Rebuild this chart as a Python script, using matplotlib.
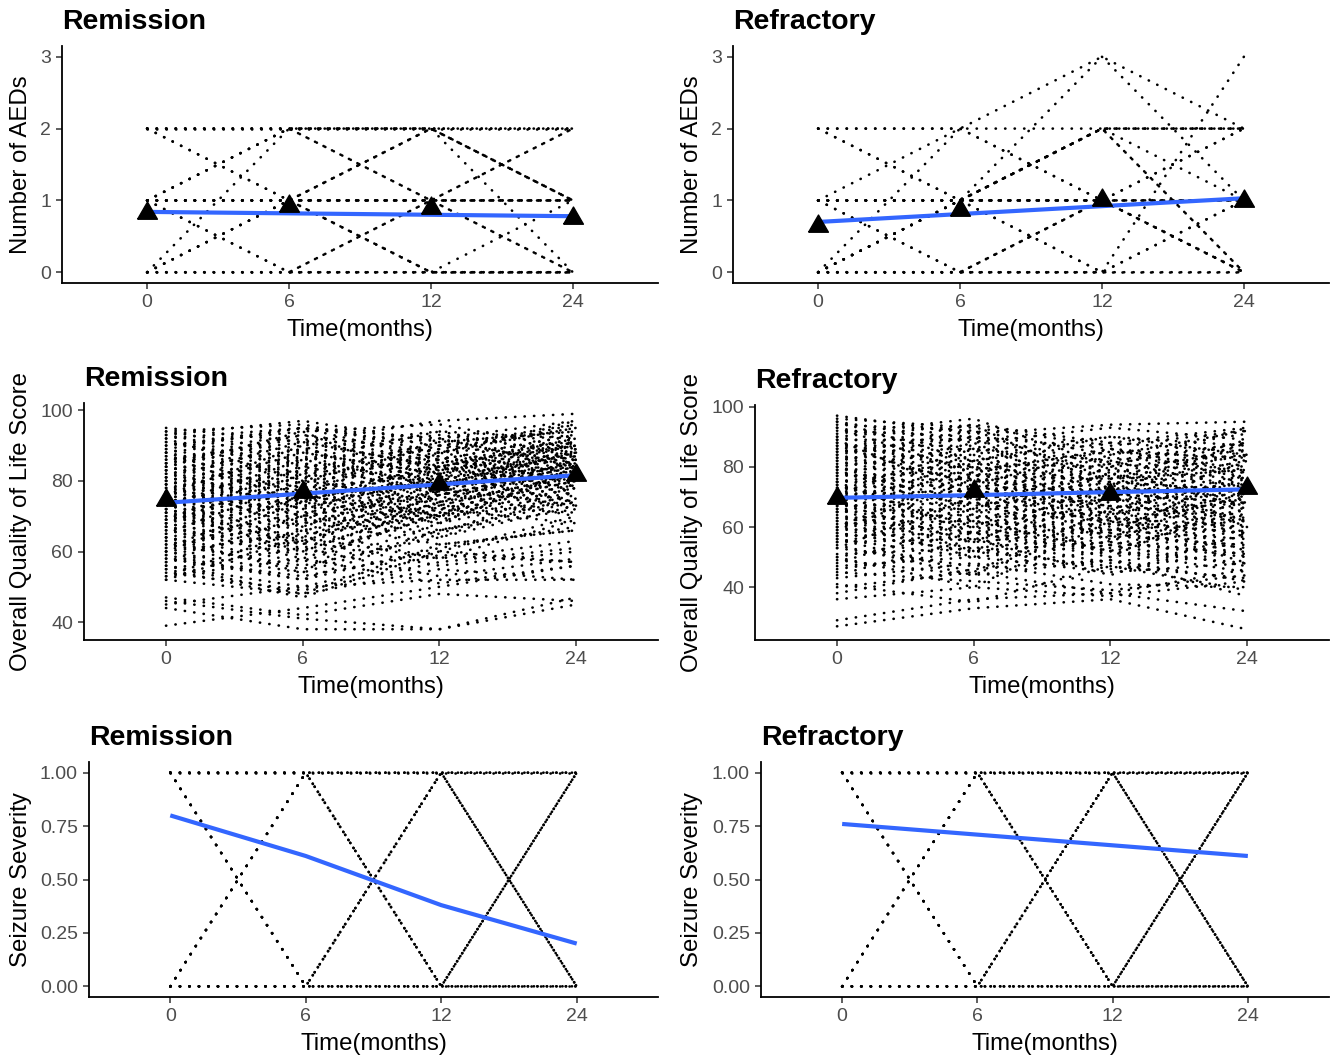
import matplotlib
matplotlib.use("Agg")
import matplotlib.pyplot as plt
from matplotlib.transforms import blended_transform_factory

plt.rcParams['font.family'] = ['Liberation Sans', 'DejaVu Sans']

# ---- data ----
TIME_LABELS = ["0", "6", "12", "24"]

# number of AEDs per patient at 0/6/12/24 months
AED_REM = [
    [2, 2, 2, 2], [2, 1, 1, 1], [2, 1, 0, 0], [1, 0, 0, 0], [1, 1, 1, 1],
    [1, 2, 2, 2], [0, 2, 2, 2], [0, 1, 2, 1], [0, 0, 0, 0], [0, 1, 1, 1],
    [1, 1, 2, 2], [1, 1, 2, 1], [1, 2, 1, 1], [1, 1, 0, 0], [2, 2, 1, 0],
    [1, 1, 1, 0], [0, 0, 1, 2], [1, 1, 1, 2], [0, 1, 0, 0], [2, 2, 2, 1],
    [1, 2, 2, 1], [0, 0, 0, 1], [1, 0, 1, 1], [2, 2, 2, 0],
]
AED_REF = [
    [2, 2, 1, 1], [2, 1, 1, 0], [1, 0, 0, 1], [1, 2, 3, 2], [0, 1, 2, 2],
    [0, 1, 2, 0], [0, 0, 1, 2], [0, 0, 0, 3], [1, 1, 1, 1], [1, 1, 2, 1],
    [0, 0, 0, 0], [1, 1, 0, 0], [0, 1, 1, 2], [1, 1, 1, 0], [2, 1, 2, 2],
    [1, 0, 1, 1], [0, 1, 3, 1], [1, 1, 0, 1], [0, 0, 1, 0], [1, 1, 2, 2],
    [2, 2, 1, 0], [0, 2, 2, 2], [1, 1, 2, 0], [0, 1, 1, 1],
]
AED_REM_MEAN = [0.82, 0.92, 0.90, 0.76]
AED_REM_FIT = [0.84, 0.82, 0.80, 0.78]
AED_REF_MEAN = [0.65, 0.87, 1.00, 0.99]
AED_REF_FIT = [0.70, 0.81, 0.92, 1.03]

# overall quality of life score per patient
QOL_REM = [
    [95, 91, 97, 99], [94, 96, 88, 97], [93, 86, 94, 92], [92, 95, 90, 96],
    [91, 84, 89, 95], [90, 94, 96, 89], [89, 82, 91, 94], [88, 93, 85, 92],
    [87, 79, 88, 95], [86, 92, 83, 90], [85, 78, 86, 93], [85, 90, 94, 87],
    [84, 76, 84, 91], [83, 89, 80, 88], [82, 74, 85, 90], [82, 88, 92, 84],
    [81, 73, 80, 89], [80, 87, 78, 86], [80, 72, 83, 88], [79, 86, 89, 81],
    [78, 70, 79, 87], [78, 85, 76, 84], [77, 69, 82, 86], [76, 84, 87, 79],
    [76, 68, 77, 85], [75, 83, 73, 82], [75, 67, 81, 84], [74, 82, 86, 77],
    [73, 66, 75, 83], [73, 81, 72, 80], [72, 64, 78, 85], [72, 80, 84, 76],
    [71, 63, 74, 81], [70, 79, 70, 78], [70, 62, 76, 83], [69, 78, 82, 74],
    [68, 61, 72, 80], [68, 76, 69, 77], [67, 60, 73, 82], [66, 75, 80, 72],
    [66, 59, 70, 78], [65, 73, 66, 75], [64, 57, 71, 79], [63, 71, 77, 70],
    [62, 56, 64, 73], [61, 69, 62, 66], [60, 54, 66, 72], [59, 66, 58, 63],
    [58, 52, 61, 67], [57, 63, 56, 60], [56, 50, 59, 57], [55, 61, 53, 58],
    [54, 49, 57, 61], [53, 58, 51, 56], [52, 48, 55, 52], [47, 42, 48, 46],
    [46, 41, 38, 45], [45, 50, 52, 52], [39, 44, 50, 56], [44, 38, 38, 47],
    [94, 88, 82, 91], [93, 97, 91, 94], [91, 85, 79, 88], [90, 95, 92, 97],
    [88, 81, 87, 80], [86, 91, 84, 92], [84, 77, 70, 86], [83, 89, 93, 88],
    [81, 75, 68, 83], [79, 86, 90, 93], [77, 71, 65, 79], [76, 83, 88, 91],
    [74, 81, 86, 80], [71, 77, 83, 87], [69, 75, 81, 74], [67, 74, 79, 84],
    [64, 70, 76, 82], [62, 68, 73, 71], [60, 65, 70, 74], [58, 53, 60, 57],
    [92, 80, 90, 86], [89, 95, 86, 93], [87, 74, 84, 90], [85, 93, 88, 96],
    [83, 72, 81, 87], [81, 91, 84, 92], [79, 67, 79, 85], [77, 88, 82, 90],
    [75, 63, 76, 84], [73, 86, 79, 88], [71, 60, 74, 80], [69, 84, 77, 89],
    [67, 58, 71, 79], [65, 80, 74, 86], [63, 55, 68, 76], [61, 76, 70, 82],
    [59, 52, 66, 74], [57, 70, 64, 77], [55, 47, 60, 70], [53, 66, 72, 68],
    [88, 76, 92, 84], [84, 94, 78, 91], [80, 70, 88, 82], [76, 90, 74, 86],
    [72, 62, 84, 78], [68, 82, 70, 92], [64, 54, 78, 73], [60, 74, 68, 84],
    [56, 48, 62, 66], [52, 64, 58, 69],
]
QOL_REF = [
    [97, 91, 94, 95], [96, 93, 87, 92], [95, 88, 93, 89], [94, 92, 84, 91],
    [93, 85, 90, 87], [92, 90, 81, 88], [90, 82, 88, 85], [89, 89, 78, 86],
    [88, 79, 85, 83], [87, 87, 76, 84], [86, 77, 83, 80], [85, 86, 74, 82],
    [84, 75, 81, 78], [83, 84, 72, 81], [82, 73, 79, 76], [81, 82, 70, 80],
    [80, 71, 77, 74], [79, 80, 68, 77], [78, 69, 75, 72], [77, 78, 66, 75],
    [76, 67, 73, 70], [75, 76, 64, 73], [74, 65, 71, 68], [73, 74, 62, 71],
    [72, 63, 69, 66], [71, 72, 61, 70], [70, 61, 67, 64], [69, 70, 59, 68],
    [68, 60, 65, 62], [67, 68, 57, 66], [66, 58, 63, 60], [65, 66, 56, 64],
    [64, 56, 61, 58], [63, 64, 54, 63], [62, 55, 59, 56], [61, 62, 53, 61],
    [60, 53, 57, 54], [59, 60, 52, 59], [58, 52, 55, 50], [57, 58, 50, 57],
    [56, 50, 54, 47], [55, 56, 48, 55], [53, 47, 52, 45], [51, 53, 46, 52],
    [49, 44, 49, 42], [47, 50, 45, 48], [45, 42, 39, 44], [43, 48, 41, 40],
    [40, 45, 38, 46], [38, 46, 49, 37], [36, 40, 37, 42], [29, 36, 38, 32],
    [27, 33, 36, 26], [90, 94, 88, 93], [85, 90, 86, 82], [80, 86, 82, 88],
    [75, 81, 80, 84], [70, 77, 76, 79], [65, 73, 72, 74], [60, 68, 69, 71],
    [55, 63, 65, 68], [50, 58, 59, 62], [88, 80, 75, 72], [83, 76, 71, 68],
    [78, 72, 67, 63], [73, 68, 62, 58], [68, 62, 58, 53], [63, 58, 52, 48],
    [58, 52, 47, 43], [46, 52, 55, 51],
    [95, 82, 90, 84], [91, 96, 80, 93], [87, 74, 86, 78], [84, 92, 76, 89],
    [80, 66, 82, 73], [77, 88, 70, 86], [74, 60, 78, 68], [71, 84, 64, 82],
    [68, 55, 74, 62], [65, 80, 58, 78], [62, 50, 70, 57], [59, 76, 55, 74],
    [56, 45, 66, 52], [53, 70, 50, 70], [50, 40, 62, 48], [93, 78, 86, 76],
    [86, 94, 72, 88], [79, 64, 80, 66], [72, 86, 62, 84], [66, 52, 72, 58],
    [60, 78, 56, 80], [54, 44, 64, 50], [48, 62, 52, 66], [44, 56, 44, 58],
    [41, 35, 47, 39], [89, 70, 84, 92], [82, 90, 66, 76], [75, 58, 74, 88],
    [67, 82, 60, 70], [57, 66, 78, 60],
]
QOL_REM_MEAN = [74.6, 76.9, 79.2, 81.7]
QOL_REM_FIT = [73.8, 76.4, 79.0, 81.6]
QOL_REF_MEAN = [69.8, 72.1, 71.1, 72.8]
QOL_REF_FIT = [69.7, 70.6, 71.6, 72.5]

# seizure severity (binary) per patient
SEV_REM = [
    [1, 1, 1, 1], [1, 1, 1, 0], [1, 1, 0, 1], [1, 1, 0, 0],
    [1, 0, 1, 1], [1, 0, 1, 0], [1, 0, 0, 1], [1, 0, 0, 0],
    [0, 1, 1, 1], [0, 1, 1, 0], [0, 1, 0, 1], [0, 1, 0, 0],
    [0, 0, 1, 1], [0, 0, 1, 0], [0, 0, 0, 1], [0, 0, 0, 0],
]
SEV_REF = [
    [1, 1, 1, 1], [1, 1, 1, 0], [1, 1, 0, 1], [1, 1, 0, 0],
    [1, 0, 1, 1], [1, 0, 1, 0], [1, 0, 0, 1], [1, 0, 0, 0],
    [0, 1, 1, 1], [0, 1, 1, 0], [0, 1, 0, 1], [0, 1, 0, 0],
    [0, 0, 1, 1], [0, 0, 1, 0], [0, 0, 0, 1], [0, 0, 0, 0],
]
SEV_REM_FIT = [0.80, 0.61, 0.38, 0.20]
SEV_REF_FIT = [0.76, 0.71, 0.66, 0.61]

# ---- figure ----
W, H = 1338, 1059
fig = plt.figure(figsize=(W / 100, H / 100), dpi=100)

BLUE = "#3366FF"
GREY = "#4D4D4D"
# equilateral triangle like ggplot's shape 17
TRI = [(-1.0, -0.577), (1.0, -0.577), (0.0, 1.155), (-1.0, -0.577)]


def add_px_axes(left, top, right, bottom):
    return fig.add_axes([left / W, 1 - bottom / H, (right - left) / W, (bottom - top) / H])


panels = [
    # (box, title, ylabel, trajectories, fit, means, yticks, yticklabels, ylim, ylabel_x)
    ((62, 46, 658, 283), "Remission", "Number of AEDs", AED_REM, AED_REM_FIT,
     AED_REM_MEAN, [0, 1, 2, 3], ["0", "1", "2", "3"], (-0.15, 3.15), 21),
    ((733, 46, 1329, 283), "Refractory", "Number of AEDs", AED_REF, AED_REF_FIT,
     AED_REF_MEAN, [0, 1, 2, 3], ["0", "1", "2", "3"], (-0.15, 3.15), 692),
    ((84, 403, 658, 640), "Remission", "Overall Quality of Life Score", QOL_REM,
     QOL_REM_FIT, QOL_REM_MEAN, [40, 60, 80, 100], ["40", "60", "80", "100"], None, 21),
    ((755, 405, 1329, 640), "Refractory", "Overall Quality of Life Score", QOL_REF,
     QOL_REF_FIT, QOL_REF_MEAN, [40, 60, 80, 100], ["40", "60", "80", "100"], None, 692),
    ((89, 762, 658, 997), "Remission", "Seizure Severity", SEV_REM, SEV_REM_FIT,
     None, [0, 0.25, 0.5, 0.75, 1.0], ["0.00", "0.25", "0.50", "0.75", "1.00"],
     (-0.05, 1.05), 21),
    ((761, 762, 1329, 997), "Refractory", "Seizure Severity", SEV_REF, SEV_REF_FIT,
     None, [0, 0.25, 0.5, 0.75, 1.0], ["0.00", "0.25", "0.50", "0.75", "1.00"],
     (-0.05, 1.05), 692),
]

xs = list(range(len(TIME_LABELS)))

for box, title, ylab, trajs, fit, means, yt, ytl, ylim, ylx in panels:
    ax = add_px_axes(*box)
    for tr in trajs:
        ax.plot(xs, tr, color="black", lw=1.9, linestyle=(0, (0.1, 3.5)),
                dash_capstyle="round", zorder=2)
    ax.plot(xs, fit, color=BLUE, lw=3.0, solid_capstyle="butt", zorder=3)
    if means is not None:
        ax.plot(xs, means, linestyle="none", marker=TRI, ms=16.5, color="black",
                zorder=4)

    ax.set_xlim(-0.6, 3.6)
    if ylim is not None:
        ax.set_ylim(*ylim)
    else:
        ax.margins(y=0.05)
    ax.set_xticks(xs)
    ax.set_xticklabels(TIME_LABELS)
    ax.set_yticks(yt)
    ax.set_yticklabels(ytl)

    for s in ("top", "right"):
        ax.spines[s].set_visible(False)
    for s in ("left", "bottom"):
        ax.spines[s].set_linewidth(1.3)
        ax.spines[s].set_color("black")
    ax.tick_params(axis="both", direction="out", length=4, width=1.1, color="#333333",
                   labelcolor=GREY, labelsize=14, pad=4)

    ax.set_title(title, loc="left", fontsize=20.5, fontweight="bold", pad=12)
    ax.set_xlabel("Time(months)", fontsize=17.3, labelpad=6)
    ax.set_ylabel(ylab, fontsize=17.3)
    ax.yaxis.label.set_va("center")
    ax.yaxis.set_label_coords(ylx / W, 0.5,
                              transform=blended_transform_factory(fig.transFigure, ax.transAxes))

fig.savefig("out.png", dpi=100)
